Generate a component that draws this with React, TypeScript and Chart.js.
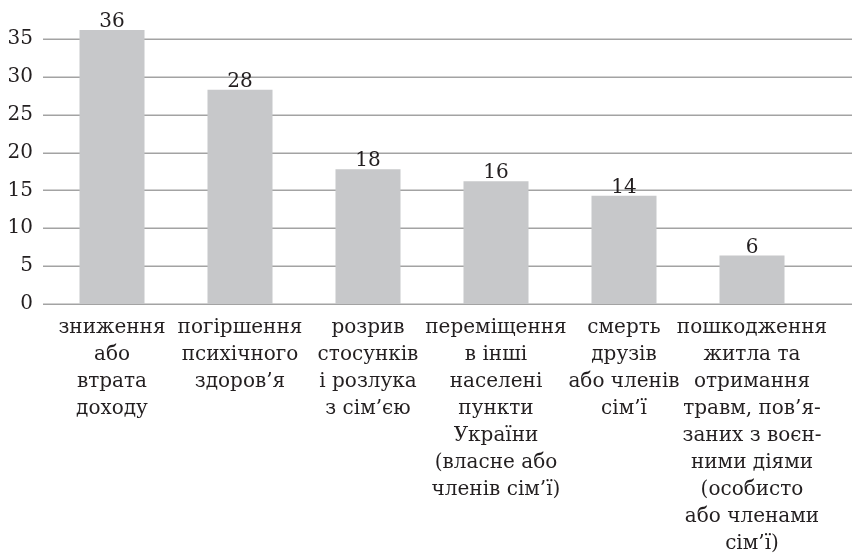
import React, { useEffect, useRef } from "react";
import { Chart, registerables } from "chart.js";

Chart.register(...registerables);

const categories: string[][] = [
  ["зниження", "або", "втрата", "доходу"],
  ["погіршення", "психічного", "здоров’я"],
  ["розрив", "стосунків", "і розлука", "з сім’єю"],
  ["переміщення", "в інші", "населені", "пункти", "України", "(власне або", "членів сім’ї)"],
  ["смерть", "друзів", "або членів", "сім’ї"],
  ["пошкодження", "житла та", "отримання", "травм, пов’я-", "заних з воєн-", "ними діями", "(особисто", "або членами", "сім’ї)"],
];
const values: number[] = [36.2, 28.3, 17.8, 16.2, 14.3, 6.4];
const valueLabels: string[] = ["36", "28", "18", "16", "14", "6"];
const yTicks: number[] = [0, 5, 10, 15, 20, 25, 30, 35];

const FONT = "'DejaVu Serif', serif";
const TEXT = "#231f20";
const GRID = "#a3a3a3";
const BAR = "#c7c8ca";

const gridPlugin = {
  id: "extGrid",
  beforeDatasetsDraw(chart: any) {
    const { ctx, chartArea, scales } = chart;
    const y = scales.y;
    ctx.save();
    ctx.strokeStyle = GRID;
    ctx.lineWidth = 1.5;
    yTicks.forEach((t) => {
      const py = Math.round(y.getPixelForValue(t)) + 0.25;
      ctx.beginPath();
      ctx.moveTo(chartArea.left - 5, py);
      ctx.lineTo(chart.width - 2, py);
      ctx.stroke();
    });
    ctx.restore();
  },
};

const labelPlugin = {
  id: "valLabels",
  afterDatasetsDraw(chart: any) {
    const { ctx } = chart;
    const meta = chart.getDatasetMeta(0);
    ctx.save();
    ctx.font = `20px ${FONT}`;
    ctx.fillStyle = TEXT;
    ctx.textAlign = "center";
    ctx.textBaseline = "alphabetic";
    meta.data.forEach((bar: any, i: number) => {
      ctx.fillText(valueLabels[i], bar.x, bar.y - 3);
    });
    ctx.restore();
  },
};

export default function App() {
  const ref = useRef<HTMLCanvasElement>(null);
  useEffect(() => {
    if (!ref.current) return;
    const chart = new Chart(ref.current, {
      type: "bar",
      data: {
        labels: categories,
        datasets: [
          {
            data: values,
            backgroundColor: BAR,
            borderWidth: 0,
            categoryPercentage: 1,
            barPercentage: 0.508,
            clip: false as any,
          },
        ],
      },
      options: {
        responsive: false,
        animation: false,
        layout: { padding: { top: 39, right: 38, left: 0, bottom: 0 } },
        plugins: { legend: { display: false }, tooltip: { enabled: false } },
        scales: {
          x: {
            grid: { display: false, drawTicks: false },
            border: { display: false },
            ticks: {
              autoSkip: false,
              maxRotation: 0,
              minRotation: 0,
              padding: 10,
              color: TEXT,
              font: { family: FONT, size: 20, lineHeight: 1.35 },
            },
            afterFit(scale: any) {
              scale.height = 253;
            },
          },
          y: {
            min: 0,
            max: 35,
            grid: { display: false, drawTicks: false },
            border: { display: false },
            ticks: {
              stepSize: 5,
              padding: 15,
              color: TEXT,
              font: { family: FONT, size: 20 },
            },
            afterFit(scale: any) {
              scale.width = 48;
            },
          },
        },
      },
      plugins: [gridPlugin, labelPlugin],
    });
    return () => chart.destroy();
  }, []);
  return (
    <div style={{ position: "absolute", left: 0, top: 0, width: 854, height: 557, background: "#fff" }}>
      <canvas ref={ref} width={854} height={557} />
    </div>
  );
}
